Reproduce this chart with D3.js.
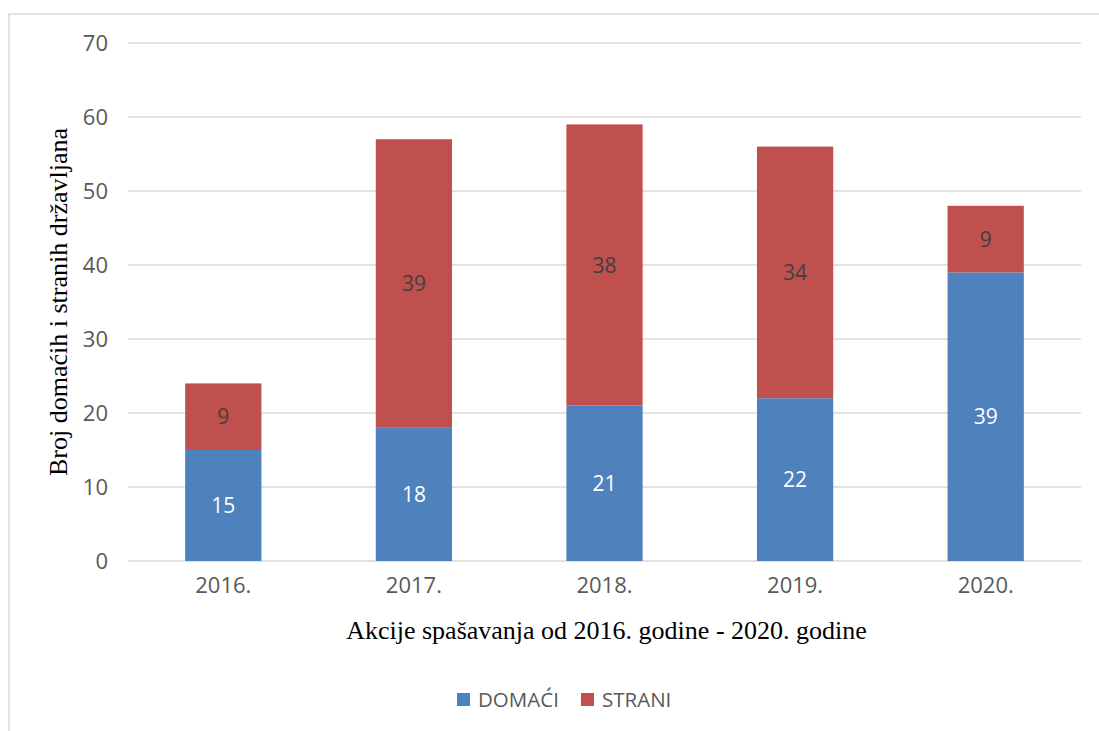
<!DOCTYPE html>
<meta charset="utf-8">
<script src="https://d3js.org/d3.v7.min.js"></script>
<style>
    body { margin: 0; background: #fff; }
    .tick text { font-family: "Open Sans", sans-serif; fill: #595959; }
</style>
<body>
<div id="chart"></div>
<script>
    // data
    var years = ["2016.", "2017.", "2018.", "2019.", "2020."]
    var domaci = [15, 18, 21, 22, 39]
    var strani = [9, 39, 38, 34, 9]
    var seriesNames = ["DOMAĆI", "STRANI"]
    var seriesColors = ["#4F81BD", "#C0504D"]
    var yTicks = [0, 10, 20, 30, 40, 50, 60, 70]

    var width = 1099, height = 731
    var plot = { left: 128, right: 1081, top: 43, bottom: 561 }

    var svg = d3.select("#chart").append("svg")
        .attr("width", width)
        .attr("height", height)

    // chart border
    svg.append("rect")
        .attr("x", 9).attr("y", 14)
        .attr("width", 1100).attr("height", 730)
        .attr("fill", "none")
        .attr("stroke", "#d9d9d9")
        .attr("stroke-width", 1.5)

    var x = d3.scaleBand()
        .domain(years)
        .range([plot.left, plot.right])
        .paddingInner(0.6)
        .paddingOuter(0.3)

    var y = d3.scaleLinear()
        .domain([0, 70])
        .range([plot.bottom, plot.top])

    // gridlines
    svg.append("g")
        .selectAll("line")
        .data(yTicks)
        .enter()
        .append("line")
        .attr("x1", plot.left)
        .attr("x2", plot.right)
        .attr("y1", function (d) { return y(d) })
        .attr("y2", function (d) { return y(d) })
        .attr("stroke", "#d9d9d9")
        .attr("stroke-width", 1.5)

    // y axis
    var yAxis = svg.append("g")
        .attr("transform", "translate(" + (plot.left - 20) + ",0)")
        .call(d3.axisLeft(y).tickValues(yTicks).tickSize(0).tickPadding(0))
    yAxis.select(".domain").remove()
    yAxis.selectAll("text").style("font-size", "22px")

    // x axis
    var xAxis = svg.append("g")
        .attr("transform", "translate(0," + (plot.bottom + 16) + ")")
        .call(d3.axisBottom(x).tickSize(0).tickPadding(0))
    xAxis.select(".domain").remove()
    xAxis.selectAll("text").style("font-size", "22px").attr("dy", "0.71em")

    // stacked data
    var rows = years.map(function (yr, i) {
        return { year: yr, "DOMAĆI": domaci[i], "STRANI": strani[i] }
    })
    var stacked = d3.stack().keys(seriesNames)(rows)

    var layers = svg.append("g")
        .selectAll("g")
        .data(stacked)
        .enter()
        .append("g")
        .attr("fill", function (d, i) { return seriesColors[i] })

    layers.selectAll("rect")
        .data(function (d) { return d })
        .enter()
        .append("rect")
        .attr("x", function (d) { return x(d.data.year) })
        .attr("width", x.bandwidth())
        .attr("y", function (d) { return y(d[1]) })
        .attr("height", function (d) { return y(d[0]) - y(d[1]) })

    // value labels
    layers.each(function (layer, li) {
        d3.select(this).selectAll("text")
            .data(layer)
            .enter()
            .append("text")
            .attr("x", function (d) { return x(d.data.year) + x.bandwidth() / 2 })
            .attr("y", function (d) { return y((d[0] + d[1]) / 2) })
            .attr("dy", "0.36em")
            .attr("text-anchor", "middle")
            .style("font-family", "'Open Sans', sans-serif")
            .style("font-size", "21px")
            .attr("fill", li === 0 ? "#ffffff" : "#404040")
            .text(function (d) { return d[1] - d[0] })
    })

    // axis titles
    svg.append("text")
        .attr("x", (plot.left + plot.right) / 2 + 2)
        .attr("y", 639)
        .attr("text-anchor", "middle")
        .style("font-family", "'Liberation Serif', 'Times New Roman', serif")
        .style("font-size", "26px")
        .attr("fill", "#000")
        .text("Akcije spašavanja od 2016. godine - 2020. godine")

    svg.append("text")
        .attr("transform", "translate(67,302) rotate(-90)")
        .attr("text-anchor", "middle")
        .style("font-family", "'Liberation Serif', 'Times New Roman', serif")
        .style("font-size", "26px")
        .attr("fill", "#000")
        .text("Broj domaćih i stranih državljana")

    // legend
    var legendX = [457, 581]
    var legend = svg.append("g")
        .selectAll("g")
        .data(seriesNames)
        .enter()
        .append("g")
        .attr("transform", function (d, i) { return "translate(" + legendX[i] + ",693)" })
    legend.append("rect")
        .attr("width", 13).attr("height", 13)
        .attr("fill", function (d, i) { return seriesColors[i] })
    legend.append("text")
        .attr("x", 21)
        .attr("y", 6.5)
        .attr("dy", "0.36em")
        .style("font-family", "'Open Sans', sans-serif")
        .style("font-size", "20.5px")
        .attr("fill", "#595959")
        .text(function (d) { return d })
</script>
</body>
